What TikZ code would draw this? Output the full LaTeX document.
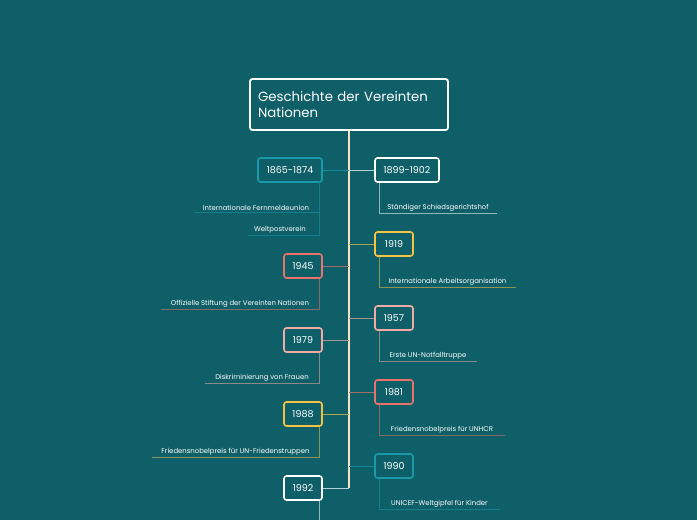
\documentclass[tikz,border=0pt]{standalone}
\usepackage{fontspec}
\setmainfont{Poppins}
\usetikzlibrary{calc}
\definecolor{bg}{HTML}{0F5F69}
\definecolor{cteal}{HTML}{1A9AA8}
\definecolor{cwhite}{HTML}{FFFFFF}
\definecolor{csal}{HTML}{E8736A}
\definecolor{cyel}{HTML}{F5C242}
\definecolor{cpink}{HTML}{F2AAA2}
\definecolor{spine}{HTML}{F7E2C8}
\begin{document}
\begin{tikzpicture}[x=1pt,y=-1pt,
  yearbox/.style={draw=#1,line width=1.6pt,rounded corners=2.5pt,fill=bg,text=white,
    font=\fontsize{9.5}{11}\selectfont,minimum height=24pt,inner xsep=6pt},
  conn/.style={draw=#1!70!bg,line width=1pt},
  sub/.style={draw=#1!55!bg,line width=0.8pt},
  lab/.style={text=white,font=\fontsize{6.9}{8}\selectfont,inner sep=1.5pt,anchor=south}]
\fill[bg] (0,0) rectangle (697,520);
\useasboundingbox (0,0) rectangle (697,520);
\coordinate (top) at (349,130);
\coordinate (bot) at (349,488);
\draw[spine,line width=1.6pt] (top) -- (bot);
\node[draw=white,line width=1.8pt,rounded corners=2.5pt,fill=bg,text=white,minimum width=198pt,minimum height=51pt,
  align=left,text width=182pt,font=\fontsize{13.3}{16}\selectfont] (title) at (349,104.5) {Geschichte der Vereinten\\Nationen};
\node[yearbox=cteal,minimum width=64pt] (a) at (290,170) {1865-1874};
\node[yearbox=csal,minimum width=38pt] (c) at (303,266) {1945};
\node[yearbox=cpink,minimum width=38pt] (e) at (303,340) {1979};
\node[yearbox=cyel,minimum width=38pt] (g) at (303,414) {1988};
\node[yearbox=cwhite,minimum width=38pt] (i) at (303,488) {1992};
\node[yearbox=cwhite,minimum width=64pt] (b) at (407,170) {1899-1902};
\node[yearbox=cyel,minimum width=38pt] (d) at (394,244) {1919};
\node[yearbox=cpink,minimum width=38pt] (f) at (394,318) {1957};
\node[yearbox=csal,minimum width=38pt] (h) at (394,392) {1981};
\node[yearbox=cteal,minimum width=38pt] (j) at (394,466) {1990};
\foreach \n/\c in {a/cteal,c/csal,e/cpink,g/cyel,i/cwhite}{
  \draw[conn=\c] (\n.east) -- (\n.east -| top);
}
\foreach \n/\c in {b/cwhite,d/cyel,f/cpink,h/csal,j/cteal}{
  \draw[conn=\c] (\n.west) -- (\n.west -| top);
}
\coordinate (as) at (319,182);
\coordinate (a1) at (319,212); \coordinate (a1l) at (195,212);
\coordinate (a2) at (319,235); \coordinate (a2l) at (248,235);
\draw[sub=cteal] (as) -- (a2) -- (a2l); \draw[sub=cteal] (a1) -- (a1l);
\node[lab] at (256,212) {Internationale Fernmeldeunion};
\node[lab] at (280,235) {Weltpostverein};
\foreach \n/\c/\y/\xl/\t in {c/csal/309/161/Offizielle Stiftung der Vereinten Nationen,
  e/cpink/383/205/Diskriminierung von Frauen,
  g/cyel/457/152/Friedensnobelpreis für UN-Friedenstruppen}{
  \coordinate (\n t) at (319,\y); \coordinate (\n l) at (\xl,\y);
  \draw[sub=\c] (\n.south -| \n t) -- (\n t) -- (\n l);
  \node[lab] at ($(\n t)!0.5!(\n l)$) {\t};
}
\coordinate (it) at (319,520);
\draw[sub=cwhite] (i.south -| it) -- (it);
\foreach \n/\c/\y/\xr/\t in {b/cwhite/213/497/Ständiger Schiedsgerichtshof,
  d/cyel/287/516/Internationale Arbeitsorganisation,
  f/cpink/361/477/Erste UN-Notfalltruppe,
  h/csal/435/505/Friedensnobelpreis für UNHCR,
  j/cteal/509/500/UNICEF-Weltgipfel für Kinder}{
  \coordinate (\n t) at (379,\y); \coordinate (\n r) at (\xr,\y);
  \draw[sub=\c] (\n.south -| \n t) -- (\n t) -- (\n r);
  \node[lab] at ($(\n t)!0.5!(\n r)$) {\t};
}
\end{tikzpicture}
\end{document}
